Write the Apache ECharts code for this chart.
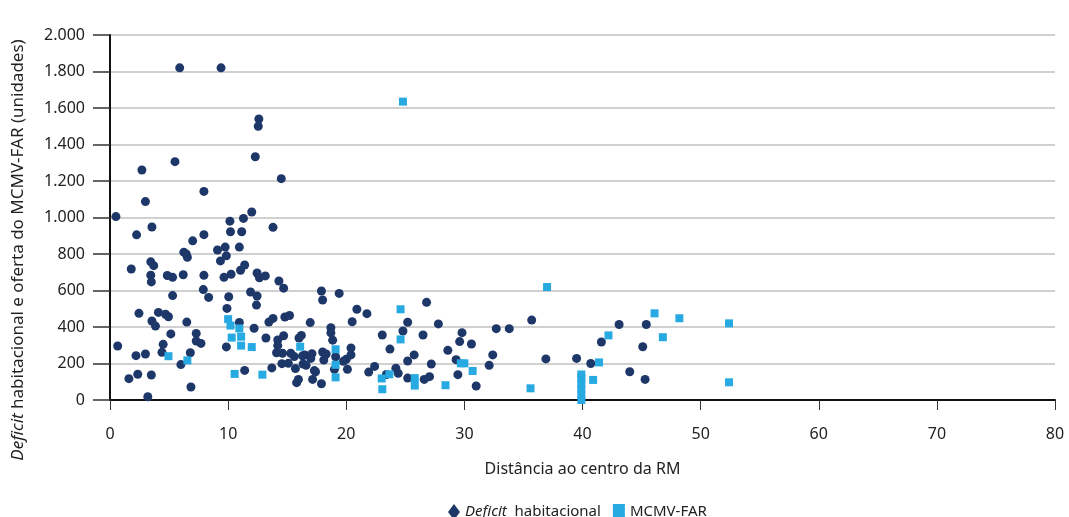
<!DOCTYPE html>
<html>
<head>
<meta charset="utf-8">
<script src="https://cdn.jsdelivr.net/npm/echarts@6/dist/echarts.min.js"></script>
<style>
  html, body { margin: 0; padding: 0; background: #fff; }
  #chart { width: 1069px; height: 517px; }
</style>
</head>
<body>
<div id="chart"></div>
<script>
// dados: [distância, unidades]
var deficitPoints = [
    [5.9,1820],[9.4,1820],[12.6,1540],[12.55,1500],[12.3,1333],[5.5,1306],[2.7,1260],[14.5,1213],
    [7.95,1143],[3.0,1087],[12.0,1030],[0.5,1005],[11.3,995],[10.15,980],[3.55,948],[13.8,946],
    [2.25,905],[7.95,906],[10.2,922],[11.15,922],[7.0,872],[9.1,822],[9.75,838],[10.95,838],
    [6.25,810],[6.45,800],[6.55,782],[9.85,790],[9.35,762],[3.45,757],[3.7,736],[11.4,740],
    [1.8,718],[11.05,711],[12.45,696],[12.65,670],[13.15,680],[6.2,686],[4.85,682],[5.3,672],
    [3.45,684],[7.95,683],[9.65,672],[10.25,689],[3.5,647],[14.3,652],[7.9,605],[14.7,613],
    [5.3,572],[8.35,562],[10.05,566],[11.9,592],[12.45,570],[12.4,520],[9.9,502],
    [17.9,597],[18.0,548],[19.4,584],[20.9,497],[21.75,473],[26.8,535],
    [2.45,475],[4.1,480],[4.7,470],[4.95,456],[3.55,433],[3.85,405],[6.5,427],[10.95,425],
    [12.2,393],[13.45,427],[13.8,447],[14.8,455],[15.2,463],[16.95,424],[20.5,429],[25.2,426],
    [27.8,417],[18.7,396],[18.7,368],[24.8,378],[23.05,356],[26.5,356],[29.8,369],[29.6,320],
    [30.6,307],[32.7,391],[33.8,391],[35.7,438],
    [5.15,362],[7.3,365],[7.3,323],[7.7,310],[4.5,305],[9.85,291],[0.65,296],[4.4,261],
    [3.0,252],[2.2,243],[6.8,259],[6.0,194],[11.4,162],[3.5,137],[2.35,141],[1.6,117],
    [6.85,71],[3.2,18],
    [13.2,340],[14.2,329],[14.2,298],[14.7,352],[16.0,340],[16.2,354],[18.85,328],[20.4,285],
    [23.7,279],[28.6,272],
    [14.1,259],[14.6,256],[15.3,256],[15.6,238],[16.3,242],[16.5,247],[17.1,254],[17.0,228],
    [18.0,263],[18.3,252],[18.1,219],[19.1,237],[20.4,247],[20.0,223],[19.75,212],
    [13.7,176],[14.55,199],[15.1,201],[15.7,172],[16.35,197],[16.6,190],[17.3,161],
    [19.0,168],[20.1,168],[21.9,153],[22.4,184],[24.2,174],[24.4,146],[23.4,140],[25.2,214],
    [25.75,247],[27.2,197],[29.3,221],[29.45,139],[32.4,247],[32.1,190],[31.0,77],
    [15.8,95],[15.95,113],[17.15,113],[17.4,155],[17.9,89],[25.2,120],[26.6,113],[27.05,128],
    [36.9,225],[39.5,228],[40.7,200],[41.6,318],[43.1,414],[45.4,414],[45.1,292],[44.0,155],
    [45.3,113]
];

var mcmvPoints = [
    [4.95,240],[6.55,217],[10.0,443],[10.2,408],[10.95,392],[10.3,342],[11.1,347],[11.1,298],
    [12.0,290],[10.55,143],[12.9,139],[16.1,292],[19.1,278],[19.1,193],[19.1,124],[24.8,1635],
    [24.6,497],[24.6,332],[23.0,118],[23.65,141],[23.05,59],[25.8,120],[25.8,79],[28.4,81],
    [29.7,201],[30.0,201],[30.7,159],[35.6,64],[37.0,619],[39.9,0],[39.9,30],[39.9,60],
    [39.9,90],[39.9,120],[39.9,140],[40.9,110],[41.4,206],[42.2,354],[46.1,475],[46.8,344],
    [48.2,448],[52.4,420],[52.4,97]
];

var xTicks = { min: 0, max: 80, step: 10 };
var yTicks = { min: 0, max: 2000, step: 200 };

var fontFam = '"Noto Sans", "DejaVu Sans", sans-serif';

var option = {
    backgroundColor: '#fff',
    animation: false,
    grid: { left: 110, right: 14, top: 35, bottom: 117 },
    xAxis: {
        type: 'value',
        min: xTicks.min, max: xTicks.max, interval: xTicks.step,
        name: 'Distância ao centro da RM',
        nameLocation: 'middle',
        nameGap: 61,
        nameTextStyle: { fontFamily: fontFam, fontSize: 16, color: '#222' },
        axisLine: { show: true, onZero: false, lineStyle: { color: '#111', width: 2 } },
        axisTick: { show: true, length: 10, lineStyle: { color: '#333', width: 1 } },
        axisLabel: { fontFamily: fontFam, fontSize: 16, color: '#222', margin: 26 },
        splitLine: { show: false }
    },
    yAxis: {
        type: 'value',
        min: yTicks.min, max: yTicks.max, interval: yTicks.step,
        axisLine: { show: true, lineStyle: { color: '#111', width: 2 } },
        axisTick: { show: true, length: 17, lineStyle: { color: '#333', width: 1.5 } },
        axisLabel: {
            fontFamily: fontFam, fontSize: 16, color: '#222', margin: 25,
            formatter: function (v) {
                return String(v).replace(/\B(?=(\d{3})+(?!\d))/g, '.');
            }
        },
        splitLine: { show: true, lineStyle: { color: '#d0d0d0', width: 2 } }
    },
    legend: {
        left: 443, top: 499,
        itemGap: 12,
        itemWidth: 12, itemHeight: 16,
        data: [
            { name: 'Deficit habitacional', icon: 'diamond' },
            { name: 'MCMV-FAR', icon: 'rect' }
        ],
        formatter: function (name) {
            if (name === 'Deficit habitacional') return '{i|Deficit}  habitacional';
            return name;
        },
        textStyle: {
            fontFamily: fontFam, fontSize: 15, color: '#222',
            rich: { i: { fontFamily: fontFam, fontSize: 15, fontStyle: 'italic', color: '#222' } }
        }
    },
    graphic: [{
        type: 'text',
        x: 18, y: 250,
        rotation: Math.PI / 2,
        style: {
            text: '{i|Deficit} habitacional e oferta do MCMV-FAR (unidades)',
            font: '17px "Noto Sans", sans-serif',
            fill: '#222',
            align: 'center',
            verticalAlign: 'middle',
            rich: { i: { fontStyle: 'italic', fontSize: 17, fontFamily: fontFam, fill: '#222' } }
        }
    }],
    series: [
        {
            name: 'Deficit habitacional',
            type: 'scatter',
            symbol: 'circle',
            symbolSize: 9,
            itemStyle: { color: '#1e3769', opacity: 1 },
            data: deficitPoints,
            z: 2
        },
        {
            name: 'MCMV-FAR',
            type: 'scatter',
            symbol: 'rect',
            symbolSize: 8,
            itemStyle: { color: '#27a9e1', opacity: 1 },
            data: mcmvPoints,
            z: 3
        }
    ]
};

var myChart = echarts.init(document.getElementById('chart'), null, { renderer: 'canvas' });
myChart.setOption(option);
</script>
</body>
</html>
